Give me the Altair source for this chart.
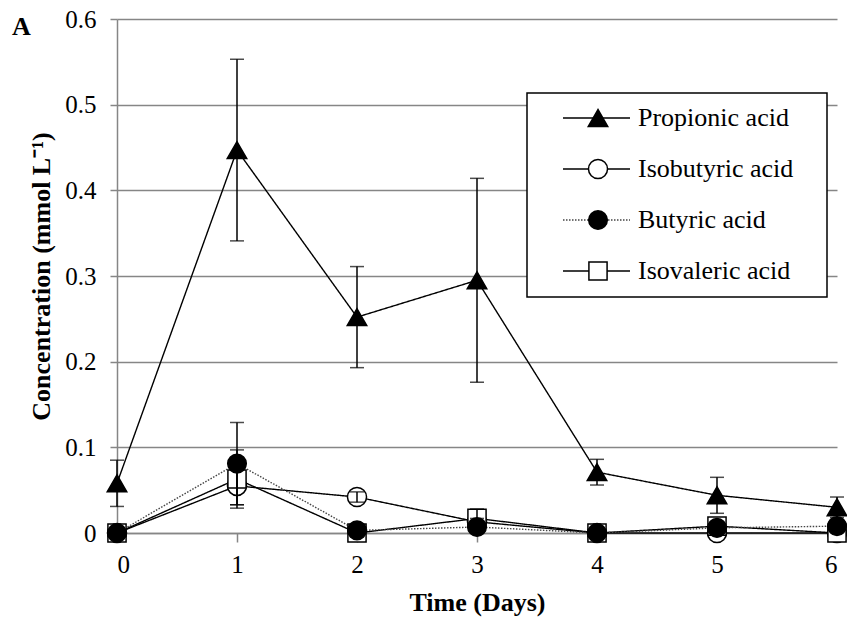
import altair as alt
import pandas as pd

# ---------------- data ----------------
days = [0, 1, 2, 3, 4, 5, 6]
series_names = ["Propionic acid", "Isobutyric acid", "Butyric acid", "Isovaleric acid"]
draw_order = [0, 1, 3, 2]   # butyric markers sit on top in the reference

propionic = [0.058, 0.447, 0.252, 0.295, 0.071, 0.044, 0.030]
propionic_err = [0.027, 0.106, 0.059, 0.119, 0.015, 0.021, 0.012]
isobutyric = [0.0, 0.055, 0.042, 0.013, 0.0, 0.0, 0.0]
isobutyric_err = [0.0, 0.022, 0.006, 0.004, 0.0, 0.0, 0.0]
butyric = [0.0, 0.081, 0.003, 0.007, 0.0, 0.006, 0.008]
butyric_err = [0.0, 0.048, 0.0, 0.003, 0.0, 0.003, 0.0]
isovaleric = [0.0, 0.063, 0.0, 0.017, 0.0, 0.008, 0.0]
isovaleric_err = [0.0, 0.034, 0.0, 0.011, 0.0, 0.004, 0.0]

y_ticks = [0, 0.1, 0.2, 0.3, 0.4, 0.5, 0.6]

values = [propionic, isobutyric, butyric, isovaleric]
errors = [propionic_err, isobutyric_err, butyric_err, isovaleric_err]

rows = []
for k, name, vals, errs in zip(draw_order, series_names, values, errors):
    for d, v, e in zip(days, vals, errs):
        rows.append({"day": d, "series": name, "k": k, "value": v, "err": e,
                     "lo": max(v - e, 0), "hi": v + e})
df = pd.DataFrame(rows).sort_values(["k", "day"]).reset_index(drop=True)
df_err = df[df["err"] > 0]

# ---------------- styles ----------------
FONT = "Liberation Serif"
shape_scale = alt.Scale(domain=series_names, range=["triangle-up", "circle", "circle", "square"])
fill_scale = alt.Scale(domain=series_names, range=["black", "white", "black", "white"])
color_scale = alt.Scale(domain=series_names, range=["black", "black", "#444444", "black"])
dash_scale = alt.Scale(domain=series_names, range=[[1, 0], [1, 0], [1.5, 1.5], [1, 0]])
size_scale = alt.Scale(domain=series_names, range=[380, 330, 330, 320])

X = alt.X("day:Q", scale=alt.Scale(domain=[0, 6], nice=False),
          axis=alt.Axis(values=days, format="d", title="Time (Days)", grid=False,
                        tickSize=9, labelPadding=10, titlePadding=12))
Y = alt.Y("value:Q", scale=alt.Scale(domain=[0, 0.6], nice=False),
          axis=alt.Axis(values=y_ticks, title="Concentration (mmol L⁻¹)",
                        labelExpr="datum.value == 0 ? '0' : format(datum.value, '.1f')",
                        tickSize=7, labelPadding=14, titlePadding=10, grid=True))

base = alt.Chart(df)

lines = base.mark_line(strokeWidth=1.4).encode(
    x=X, y=Y, detail="series:N",
    color=alt.Color("series:N", scale=color_scale, legend=None),
    strokeDash=alt.StrokeDash("series:N", scale=dash_scale, legend=None),
)

points = base.mark_point(filled=True, stroke="black", strokeWidth=1.5, opacity=1).encode(
    x=X, y=Y,
    shape=alt.Shape("series:N", scale=shape_scale, legend=None),
    fill=alt.Fill("series:N", scale=fill_scale, legend=None),
    size=alt.Size("series:N", scale=size_scale, legend=None),
    order=alt.Order("k:Q"),
)

err_base = alt.Chart(df_err)
err_rules = err_base.mark_rule(color="black", strokeWidth=1.5).encode(
    x=X, y=alt.Y("lo:Q", scale=alt.Scale(domain=[0, 0.6], nice=False)), y2="hi:Q")
cap_hi = err_base.mark_tick(orient="horizontal", size=14, thickness=1.5, color="black").encode(
    x=X, y=alt.Y("hi:Q", scale=alt.Scale(domain=[0, 0.6], nice=False)))
cap_lo = err_base.mark_tick(orient="horizontal", size=14, thickness=1.5, color="black").encode(
    x=X, y=alt.Y("lo:Q", scale=alt.Scale(domain=[0, 0.6], nice=False)))

main = alt.layer(lines, points, err_rules, cap_hi, cap_lo)

# ---------------- custom legend ----------------
leg_df = pd.DataFrame({"name": series_names, "i": list(range(len(series_names)))})
YL = alt.Y("i:Q", scale=alt.Scale(domain=[0, 3], range=[99, 252]), axis=None)
one = pd.DataFrame({"a": [0]})

box = alt.Chart(one).mark_rect(fill="white", stroke="black", strokeWidth=1.5).encode(
    x=alt.value(410), x2=alt.value(710), y=alt.value(74), y2=alt.value(278))
leg_rules = alt.Chart(leg_df).mark_rule(strokeWidth=1.4).encode(
    x=alt.value(446), x2=alt.value(513), y=YL,
    color=alt.Color("name:N", scale=color_scale, legend=None),
    strokeDash=alt.StrokeDash("name:N", scale=dash_scale, legend=None))
leg_pts = alt.Chart(leg_df).mark_point(filled=True, stroke="black", strokeWidth=1.5, opacity=1).encode(
    x=alt.value(481), y=YL,
    shape=alt.Shape("name:N", scale=shape_scale, legend=None),
    fill=alt.Fill("name:N", scale=fill_scale, legend=None),
    size=alt.Size("name:N", scale=size_scale, legend=None))
leg_txt = alt.Chart(leg_df).mark_text(align="left", baseline="middle", font=FONT,
                                      fontSize=26, color="black").encode(
    x=alt.value(521), y=YL, text="name:N")
panel_label = alt.Chart(one).mark_text(align="left", baseline="alphabetic", font=FONT,
                                       fontSize=26, fontWeight="bold", color="black").encode(
    x=alt.value(-105), y=alt.value(16), text=alt.value("A"))

legend = alt.layer(box, leg_rules, leg_pts, leg_txt, panel_label)

chart = alt.layer(main, legend).resolve_scale(y="independent").properties(
    width=720, height=514,
    autosize=alt.AutoSizeParams(type="none"),
    padding={"left": 117, "top": 19, "right": 10, "bottom": 85},
).configure_view(stroke=None).configure_axis(
    labelFont=FONT, labelFontSize=25, labelColor="black",
    titleFont=FONT, titleFontSize=26, titleFontWeight="bold", titleColor="black",
    domainColor="#868686", tickColor="#868686", gridColor="#868686",
    domainWidth=1.5, tickWidth=1.5, gridWidth=1.5,
)

chart.save("out.html", embed_options={"renderer": "svg", "actions": False})
